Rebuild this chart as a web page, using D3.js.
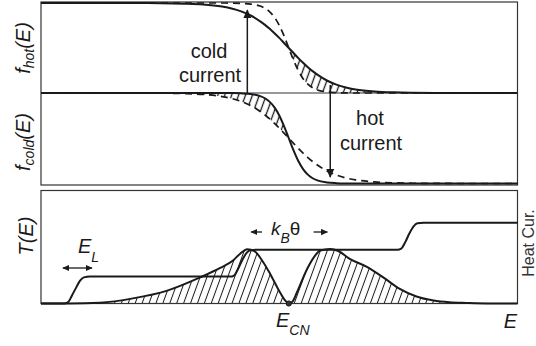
<!DOCTYPE html>
<html><head><meta charset="utf-8">
<script src="https://cdn.jsdelivr.net/npm/d3@7"></script>
<style>
html,body{margin:0;padding:0;background:#fff;}
svg{display:block;font-family:"Liberation Sans",Arial,Helvetica,sans-serif;}
</style></head>
<body><svg id="c" width="536" height="346"></svg>
<script>
// ---- data (E in arbitrary units 0..100) ----
const fermiE = [0,10,20,25,30,34,38,40,42,44,46,47,48,49,50,51,52,53,54,55,56,57,58,60,62,64,66,70,74,78,84,90,100];
// broad (hot) distribution
const fBroad = [1.000,1.000,0.999,0.998,0.993,0.984,0.960,0.939,0.907,0.861,0.796,0.757,0.713,0.664,0.612,0.556,0.500,0.444,0.388,0.336,0.287,0.243,0.204,0.139,0.093,0.061,0.040,0.017,0.007,0.003,0.001,0.000,0.000];
// sharp (cold) distribution
const fSharp = [1.000,1.000,1.000,1.000,1.000,1.000,1.000,0.999,0.996,0.988,0.966,0.942,0.902,0.841,0.752,0.635,0.500,0.365,0.248,0.159,0.098,0.058,0.034,0.012,0.004,0.001,0.000,0.000,0.000,0.000,0.000,0.000,0.000];
const muE = 52;
// transmission staircase T(E)
const stepE = [0,4.8,5.7,6.5,7.4,8.2,9.0,10.3,39.7,40.5,41.4,42.2,43.1,43.9,45.2,74.8,75.6,76.5,77.3,78.2,79.0,80.3,100];
const stepT = [0,0,0.05,0.3,0.6,0.85,0.97,1.0,1.0,1.04,1.3,1.6,1.87,1.98,2.0,2.0,2.04,2.3,2.6,2.87,2.98,3.0,3.0];
// heat current integrand
const heatE = [0,6.1,12.4,19.3,26.5,33.4,37.6,40.3,41.8,43.3,44.8,46.4,48.1,50.2,51.3,52.1,52.9,53.8,55.9,57.4,58.6,60.7,62.4,64.7,68.3,71.9,75.2,78.8,82.4,85.7,89.3,94.3,100];
const heatQ = [0,0,0.03,0.19,0.48,0.97,1.32,1.6,1.85,2.02,1.95,1.6,1.1,0.4,0.1,0,0.1,0.45,1.3,1.75,1.97,2.03,1.95,1.67,1.37,0.96,0.55,0.26,0.11,0.045,0.02,0,0];
// arrows: [E, from f, to f]
const coldArrow = {E:43.3, from:1.0, to:0.92};   // from f_cold line up to f_hot
const hotArrow  = {E:60.7, from:0.09, to:0.072}; // from f_hot curve down to f_cold
const ELrange = [4.6, 10.7];
const kBarrows = [[46.4,44.1],[57.2,60.1]];

const svg = d3.select("#c");
const ink = "#1a1a1a";
const x = d3.scaleLinear().domain([0,100]).range([41,517.5]);
const yHot = d3.scaleLinear().domain([0,1]).range([93,3]);
const yCold = d3.scaleLinear().domain([0,1]).range([183.5,93]);
const yB = d3.scaleLinear().domain([0,4.2]).range([303.5,190.5]);

const defs = svg.append("defs");
function hatch(id, sp, w){
  const p = defs.append("pattern").attr("id",id).attr("patternUnits","userSpaceOnUse")
    .attr("width",sp).attr("height",20).attr("patternTransform","rotate(20)");
  p.append("line").attr("x1",sp/2).attr("x2",sp/2).attr("y1",-1).attr("y2",21)
    .attr("stroke",ink).attr("stroke-width",w);
}
hatch("hTop",6.5,1.3);
hatch("hBot",6.5,1.0);
const mk = defs.append("marker").attr("id","ah").attr("viewBox","0 0 10 10")
  .attr("refX",9).attr("refY",5).attr("markerWidth",9).attr("markerHeight",9)
  .attr("markerUnits","userSpaceOnUse").attr("orient","auto-start-reverse");
mk.append("path").attr("d","M0,0.5 L10,5 L0,9.5 Z").attr("fill",ink);
const mk2 = defs.append("marker").attr("id","ahs").attr("viewBox","0 0 10 10")
  .attr("refX",9).attr("refY",5).attr("markerWidth",7).attr("markerHeight",7)
  .attr("markerUnits","userSpaceOnUse").attr("orient","auto-start-reverse");
mk2.append("path").attr("d","M0,0.5 L10,5 L0,9.5 Z").attr("fill",ink);

const idx = fermiE.map((e,i)=>i);
const curve = d3.curveMonotoneX;

// hatch regions, top panels
const topIdx = idx.filter(i=>fermiE[i]>=muE && fermiE[i]<=90);
svg.append("path").attr("d", d3.area().curve(curve)
  .x(i=>x(fermiE[i])).y0(i=>yHot(fSharp[i])).y1(i=>yHot(fBroad[i]))(topIdx))
  .attr("fill","url(#hTop)");
const botIdx = idx.filter(i=>fermiE[i]<=muE && fermiE[i]>=20);
svg.append("path").attr("d", d3.area().curve(curve)
  .x(i=>x(fermiE[i])).y0(i=>yCold(fBroad[i])).y1(i=>yCold(fSharp[i]))(botIdx))
  .attr("fill","url(#hTop)");

// hatch under heat curve
const hIdx = heatE.map((e,i)=>i);
svg.append("path").attr("d", d3.area().curve(curve)
  .x(i=>x(heatE[i])).y0(yB(0)).y1(i=>yB(heatQ[i]))(hIdx))
  .attr("fill","url(#hBot)");

// frames
svg.append("rect").attr("x",x(0)).attr("y",2).attr("width",x(100)-x(0)).attr("height",183)
  .attr("fill","none").attr("stroke","#333").attr("stroke-width",1.2);
svg.append("line").attr("x1",x(0)).attr("x2",x(100)).attr("y1",yHot(0)).attr("y2",yHot(0))
  .attr("stroke","#333").attr("stroke-width",1);
svg.append("rect").attr("x",x(0)).attr("y",yB(4.2)).attr("width",x(100)-x(0)).attr("height",yB(0)-yB(4.2))
  .attr("fill","none").attr("stroke","#333").attr("stroke-width",1.2);

// Fermi curves
const lineF = (yS, arr) => d3.line().curve(curve).x(i=>x(fermiE[i])).y(i=>yS(arr[i]))(idx);
svg.append("path").attr("d", lineF(yHot,fBroad)).attr("fill","none").attr("stroke",ink).attr("stroke-width",2);
svg.append("path").attr("d", lineF(yHot,fSharp)).attr("fill","none").attr("stroke",ink).attr("stroke-width",1.7).attr("stroke-dasharray","7,5");
svg.append("path").attr("d", lineF(yCold,fSharp)).attr("fill","none").attr("stroke",ink).attr("stroke-width",2);
svg.append("path").attr("d", lineF(yCold,fBroad)).attr("fill","none").attr("stroke",ink).attr("stroke-width",1.7).attr("stroke-dasharray","7,5");

// arrows
svg.append("line").attr("x1",x(coldArrow.E)).attr("x2",x(coldArrow.E))
  .attr("y1",yCold(coldArrow.from)).attr("y2",yHot(coldArrow.to))
  .attr("stroke",ink).attr("stroke-width",1.5).attr("marker-end","url(#ah)");
svg.append("line").attr("x1",x(hotArrow.E)).attr("x2",x(hotArrow.E))
  .attr("y1",yHot(hotArrow.from)).attr("y2",yCold(hotArrow.to))
  .attr("stroke",ink).attr("stroke-width",1.5).attr("marker-end","url(#ah)");

// bottom curves
svg.append("path").attr("d", d3.line().curve(curve).x(i=>x(heatE[i])).y(i=>yB(heatQ[i]))(hIdx))
  .attr("fill","none").attr("stroke",ink).attr("stroke-width",2);
svg.append("path").attr("d", d3.line().curve(curve).x((e,i)=>x(stepE[i])).y((e,i)=>yB(stepT[i]))(stepE))
  .attr("fill","none").attr("stroke",ink).attr("stroke-width",2);
svg.append("circle").attr("cx",x(muE)).attr("cy",yB(0)).attr("r",2.6).attr("fill","#333").attr("stroke",ink);

// E_L double arrow
svg.append("line").attr("x1",x(ELrange[0])).attr("x2",x(ELrange[1])).attr("y1",268).attr("y2",268)
  .attr("stroke",ink).attr("stroke-width",1.3).attr("marker-start","url(#ahs)").attr("marker-end","url(#ahs)");
kBarrows.forEach(a=>{
  svg.append("line").attr("x1",x(a[0])).attr("x2",x(a[1])).attr("y1",232).attr("y2",232)
    .attr("stroke",ink).attr("stroke-width",1.3).attr("marker-end","url(#ahs)");
});

// texts
const T = (xx,yy,opts={}) => svg.append("text").attr("x",xx).attr("y",yy)
  .attr("fill",opts.fill||ink).attr("font-size",opts.size||20)
  .attr("text-anchor",opts.anchor||"start").attr("font-style",opts.italic?"italic":"normal");
T(209,58,{anchor:"middle"}).text("cold");
T(210,82,{anchor:"middle"}).text("current");
T(370,125,{anchor:"middle"}).text("hot");
T(371,150,{anchor:"middle"}).text("current");

function rotLabel(cx, cy, main, sub, tail){
  const t = svg.append("text").attr("transform",`translate(${cx},${cy}) rotate(-90)`)
    .attr("text-anchor","middle").attr("font-style","italic").attr("fill",ink).attr("font-size",20);
  t.append("tspan").text(main);
  if(sub){ t.append("tspan").attr("font-size",14).attr("dy",4).text(sub);
           t.append("tspan").attr("dy",-4).text(tail); }
  else t.append("tspan").text(tail);
}
rotLabel(30,48,"f","hot","(E)");
rotLabel(30,142,"f","cold","(E)");
rotLabel(33,236,"T","","(E)");

const el = T(78,253,{italic:true}); el.append("tspan").text("E");
el.append("tspan").attr("font-size",14).attr("dy",9).text("L");
const kb = T(271,235,{italic:true,size:19}); kb.append("tspan").text("k");
kb.append("tspan").attr("font-size",14).attr("dy",8).text("B");
kb.append("tspan").attr("dy",-8).attr("font-style","normal").attr("font-size",19).text("θ");
const ecn = T(276,327,{italic:true}); ecn.append("tspan").text("E");
ecn.append("tspan").attr("font-size",14).attr("dy",8).text("CN");
T(517,328,{italic:true,anchor:"end"}).text("E");
svg.append("text").attr("transform","translate(534,243) rotate(-90)").attr("text-anchor","middle")
  .attr("font-size",16).attr("fill","#333").text("Heat Cur.");
</script></body></html>
